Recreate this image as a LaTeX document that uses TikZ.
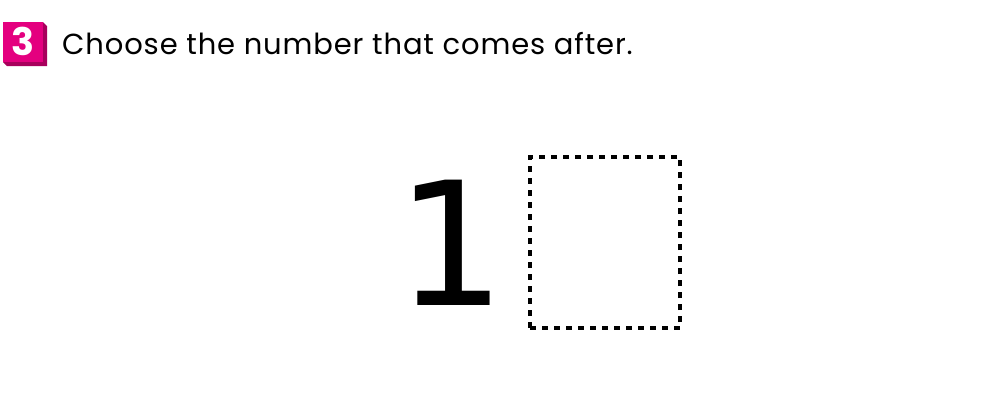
\documentclass[tikz,border=0pt]{standalone}
\usepackage{fontspec}
\setmainfont{Poppins}[LetterSpace=3]
\newfontfamily\digitfont{DejaVu Sans}
\newfontfamily\badgefont{Poppins}[UprightFont=* Bold]
\definecolor{badge}{HTML}{E4007F}
\definecolor{badgedark}{HTML}{A8005C}
\begin{document}
\begin{tikzpicture}[x=1pt,y=-1pt,
  qtext/.style={anchor=base west,inner sep=0pt,font=\fontsize{29}{29}\selectfont},
  answerbox/.style={draw=black,line width=4pt,dash pattern=on 6pt off 6pt}]
\useasboundingbox (0,0) rectangle (1000,400);
% badge
\fill[badgedark] (3,22) -- (43,22) -- (47,26) -- (47,66) -- (7,66) -- (3,62) -- cycle;
\fill[badge] (3,22) rectangle (43,62);
\node[text=white,font=\badgefont\fontsize{38}{38}\selectfont,inner sep=0pt,anchor=base] (num) at (23,55.5) {3};
\node[qtext] (q) at (62,54) {Choose the number that comes after.};
\node[anchor=base,inner sep=0pt,font=\digitfont\fontsize{172}{172}\selectfont] (one) at (451,305) {1};
\node[answerbox,minimum width=150pt,minimum height=171pt,inner sep=0pt] (ans) at (605,242.5) {};
\end{tikzpicture}
\end{document}
